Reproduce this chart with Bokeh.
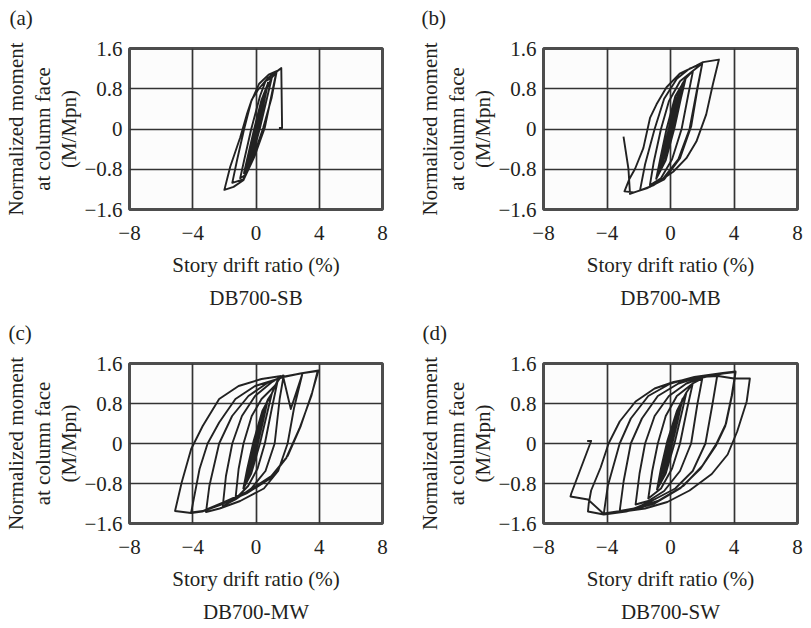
import math
from bokeh.plotting import figure
from bokeh.models import Range1d, FixedTicker, Title
from bokeh.layouts import gridplot
from bokeh.embed import file_html
from bokeh.resources import INLINE

FONT = "Liberation Serif"
INK = "#231f20"

X_TICKS = [-8, -4, 0, 4, 8]
Y_TICKS = [-1.6, -0.8, 0, 0.8, 1.6]
X_LABELS = {-8: "\u22128", -4: "\u22124", 0: "0", 4: "4", 8: "8"}
Y_LABELS = {-1.6: "\u22121.6", -0.8: "\u22120.8", 0: "0", 0.8: "0.8", 1.6: "1.6"}
X_TITLE = "Story drift ratio (%)"
Y_TITLE = "Normalized moment\nat column face\n(M/Mpn)"
TAGS = ["(a)", "(b)", "(c)", "(d)"]
NAMES = ["DB700-SB", "DB700-MB", "DB700-MW", "DB700-SW"]

# (drift %, M/Mpn)
SB_pts = [
    (0, 0),
    (0.4, 0.5), (0.1, 0.08), (-0.2, -0.26), (-0.4, -0.48), (-0.1, -0.08), (0.2, 0.28), (0.4, 0.5),
    (0.38, 0.47), (0.08, 0.06), (-0.22, -0.3), (-0.4, -0.5), (-0.08, -0.06), (0.22, 0.31),
    (0.5, 0.65), (0.15, 0.1), (-0.25, -0.38), (-0.5, -0.62), (-0.15, -0.1), (0.25, 0.38), (0.5, 0.65),
    (0.52, 0.66), (0.13, 0.07), (-0.27, -0.4), (-0.52, -0.64), (-0.13, -0.07), (0.27, 0.41),
    (0.75, 0.9), (0.45, 0.45), (0.1, -0.02), (-0.35, -0.55), (-0.75, -0.86), (-0.45, -0.45), (-0.1, 0.02), (0.35, 0.58), (0.75, 0.9),
    (0.76, 0.92), (0.42, 0.42), (0.08, -0.04), (-0.38, -0.58), (-0.76, -0.88), (-0.42, -0.42), (-0.08, 0.04), (0.38, 0.6),
    (1.0, 1.02), (0.7, 0.62), (0.25, 0.02), (-0.3, -0.62), (-0.7, -0.92), (-1.0, -0.98), (-0.75, -0.62), (-0.3, 0.0), (0.25, 0.65), (0.6, 0.95), (1.0, 1.02),
    (1.3, 1.13), (0.98, 0.61), (0.46, 0.03), (-0.17, -0.56), (-0.8, -1.0), (-1.5, -1.07), (-1.2, -0.62), (-0.75, 0.0), (-0.3, 0.55), (0.2, 0.9), (0.8, 1.08), (1.3, 1.15),
    (1.0, 0.7), (0.55, 0.02), (-0.1, -0.55), (-0.8, -1.02), (-1.42, -1.15), (-2.0, -1.21),
    (-1.63, -0.75), (-1.0, -0.17), (-0.58, 0.29), (-0.27, 0.58), (0.13, 0.78), (0.77, 1.02), (1.6, 1.21),
    (1.65, 0.02), (1.45, 0.02),
]

MB_pts = [
    (0, 0),
    (0.4, 0.5), (0.1, 0.08), (-0.2, -0.28), (-0.4, -0.5), (-0.1, -0.08), (0.2, 0.3), (0.4, 0.5),
    (0.38, 0.48), (0.08, 0.06), (-0.22, -0.3), (-0.4, -0.52), (-0.08, -0.06), (0.22, 0.32),
    (0.5, 0.65), (0.15, 0.1), (-0.25, -0.38), (-0.5, -0.63), (-0.15, -0.1), (0.25, 0.38), (0.5, 0.65),
    (0.52, 0.67), (0.12, 0.06), (-0.28, -0.42), (-0.52, -0.65), (-0.12, -0.06), (0.28, 0.42),
    (0.75, 0.9), (0.45, 0.45), (0.1, -0.02), (-0.35, -0.55), (-0.75, -0.88), (-0.45, -0.45), (-0.1, 0.02), (0.35, 0.58), (0.75, 0.9),
    (0.95, 1.0), (0.65, 0.6), (0.25, 0.02), (-0.3, -0.62), (-0.9, -0.99), (-0.65, -0.6), (-0.25, 0.0), (0.3, 0.65), (0.95, 1.0),
    (1.42, 1.16), (1.1, 0.65), (0.7, 0.0), (0.1, -0.6), (-0.6, -0.98), (-1.3, -1.12), (-1.05, -0.65), (-0.6, 0.0), (-0.1, 0.55), (0.6, 0.95), (1.42, 1.16),
    (2.0, 1.3), (1.65, 0.75), (1.2, 0.0), (0.5, -0.6), (-0.5, -1.0), (-1.3, -1.15), (-1.92, -1.22), (-1.6, -0.7), (-1.0, 0.0), (-0.4, 0.6), (0.4, 1.0), (1.2, 1.2), (2.0, 1.3),
    (1.7, 0.8), (1.3, 0.05), (0.6, -0.58), (-0.4, -1.0), (-1.5, -1.18), (-2.3, -1.26), (-2.9, -1.24),
    (-2.6, -1.0), (-2.23, -0.79), (-1.71, -0.38), (-1.29, 0.22), (-0.88, 0.49), (-0.25, 0.83), (0.58, 1.1), (1.63, 1.26), (2.05, 1.33),
    (3.05, 1.38), (2.67, 0.89), (2.25, 0.29), (1.63, -0.25), (1.0, -0.58), (0.17, -0.85), (-1.09, -1.12), (-1.92, -1.22), (-2.55, -1.29),
    (-2.65, -0.79), (-2.96, -0.15),
]

MW_pts = [
    (0, 0),
    (0.4, 0.48), (0.1, 0.08), (-0.2, -0.27), (-0.4, -0.47), (-0.1, -0.08), (0.2, 0.28), (0.4, 0.48),
    (0.5, 0.62), (0.15, 0.1), (-0.25, -0.37), (-0.5, -0.6), (-0.15, -0.1), (0.25, 0.38), (0.5, 0.62),
    (0.52, 0.64), (0.12, 0.06), (-0.28, -0.4), (-0.52, -0.62), (-0.12, -0.06), (0.28, 0.4),
    (0.75, 0.88), (0.45, 0.45), (0.1, -0.02), (-0.35, -0.55), (-0.75, -0.86), (-0.45, -0.45), (-0.1, 0.02), (0.35, 0.58), (0.75, 0.88),
    (1.0, 1.0), (0.7, 0.6), (0.25, 0.0), (-0.3, -0.6), (-0.8, -0.9), (-0.55, -0.5), (-0.15, 0.05), (0.4, 0.65), (1.0, 1.0),
    (1.38, 1.27), (1.0, 0.7), (0.56, 0.0), (0.1, -0.5), (-0.5, -0.85), (-1.3, -1.11), (-1.1, -0.51), (-0.79, 0.0), (-0.27, 0.55), (0.35, 0.89), (1.18, 1.15), (1.5, 1.3),
    (1.75, 1.36), (1.5, 0.9), (1.18, 0.0), (0.6, -0.55), (-0.3, -0.9), (-1.3, -1.12), (-2.1, -1.25), (-1.9, -0.65), (-1.5, 0.0), (-0.89, 0.55), (-0.06, 0.95), (0.97, 1.22), (1.7, 1.36),
    (2.2, 0.69), (2.93, 1.39), (2.4, 0.7), (2.0, 0.0), (1.4, -0.55), (0.5, -0.9), (-1.0, -1.15), (-2.3, -1.3), (-3.16, -1.37),
    (-2.95, -0.85), (-2.33, 0.0), (-1.51, 0.55), (-0.48, 0.95), (0.76, 1.22), (1.59, 1.32),
    (2.8, 1.4), (3.95, 1.46), (3.55, 1.02), (2.83, 0.35), (2.0, -0.25), (0.97, -0.65), (-0.47, -0.95), (-2.1, -1.18), (-3.37, -1.35), (-4.1, -1.38),
    (-3.57, -0.51), (-3.06, 0.0), (-2.33, 0.42), (-1.3, 0.89), (-0.06, 1.15), (1.38, 1.29), (1.8, 1.34),
    (3.0, 1.41), (3.9, 1.45), (3.5, 0.95), (2.75, 0.3), (1.9, -0.3), (0.9, -0.7), (-0.6, -1.0), (-2.2, -1.22), (-3.4, -1.36), (-4.1, -1.39),
    (-5.12, -1.35), (-4.7, -0.78), (-4.1, -0.11), (-3.37, 0.35), (-2.33, 0.89), (-1.1, 1.15), (0.35, 1.29), (1.6, 1.35),
]

SW_pts = [
    (0, 0),
    (0.4, 0.48), (0.1, 0.08), (-0.2, -0.27), (-0.4, -0.47), (-0.1, -0.08), (0.2, 0.28), (0.4, 0.48),
    (0.5, 0.62), (0.15, 0.1), (-0.25, -0.37), (-0.5, -0.6), (-0.15, -0.1), (0.25, 0.38), (0.5, 0.62),
    (0.75, 0.88), (0.45, 0.45), (0.1, -0.02), (-0.35, -0.55), (-0.75, -0.86), (-0.45, -0.45), (-0.1, 0.02), (0.35, 0.58), (0.75, 0.88),
    (0.77, 0.9), (0.42, 0.42), (0.08, -0.04), (-0.38, -0.58), (-0.77, -0.88), (-0.42, -0.42), (-0.08, 0.04), (0.38, 0.6),
    (1.0, 1.02), (0.7, 0.6), (0.25, 0.0), (-0.3, -0.6), (-0.85, -0.92), (-0.6, -0.5), (-0.2, 0.05), (0.4, 0.65), (1.0, 1.02),
    (1.4, 1.2), (1.05, 0.7), (0.6, 0.0), (0.1, -0.5), (-0.6, -0.9), (-1.4, -1.1), (-1.15, -0.55), (-0.8, 0.0), (-0.3, 0.55), (0.4, 0.95), (1.4, 1.2),
    (2.0, 1.3), (1.7, 0.8), (1.3, 0.0), (0.6, -0.55), (-0.4, -0.95), (-1.4, -1.15), (-2.2, -1.22), (-1.95, -0.6), (-1.6, 0.0), (-1.0, 0.55), (-0.1, 0.95), (1.0, 1.2), (2.0, 1.32),
    (2.95, 1.37), (2.65, 0.8), (2.2, 0.0), (1.4, -0.55), (0.3, -0.9), (-1.2, -1.15), (-2.3, -1.3), (-3.2, -1.35),
    (-2.95, -0.75), (-2.5, 0.0), (-1.8, 0.5), (-0.8, 0.95), (0.5, 1.2), (1.8, 1.33), (2.95, 1.38),
    (3.3, 1.4), (4.1, 1.43), (3.9, 1.0), (3.5, 0.4), (2.9, 0.0), (2.0, -0.45), (0.8, -0.85), (-0.8, -1.15), (-2.5, -1.32), (-4.2, -1.4),
    (-3.95, -0.85), (-3.2, 0.0), (-2.5, 0.5), (-1.4, 0.95), (0.0, 1.2), (1.5, 1.33), (3.3, 1.41), (4.1, 1.44),
    (3.85, 0.95), (3.45, 0.35), (2.85, -0.05), (1.9, -0.5), (0.6, -0.9), (-1.0, -1.2), (-2.8, -1.36), (-4.2, -1.42),
    (-5.2, -1.36), (-5.15, -1.2), (-5.0, -0.94), (-4.4, -0.48), (-3.9, 0.0), (-3.2, 0.44), (-2.2, 0.84), (-1.0, 1.1), (0.2, 1.23), (1.8, 1.33), (3.0, 1.35), (4.0, 1.3), (5.0, 1.3),
    (4.8, 0.84), (4.2, 0.24), (3.6, -0.22), (2.6, -0.61), (1.2, -0.94), (-0.2, -1.17), (-1.6, -1.3), (-3.2, -1.37), (-4.2, -1.41),
    (-5.2, -1.12), (-6.3, -1.06), (-6.25, -1.0), (-5.0, 0.05), (-5.25, 0.05),
]

SERIES = [SB_pts, MB_pts, MW_pts, SW_pts]

W = 405
H = 314
LAYOUT = [
    dict(left=128, top=46, right=23, bottom=104, tag_off=-120),
    dict(left=138, top=48, right=13, bottom=104, tag_off=-122),
    dict(left=128, top=49, right=23, bottom=104, tag_off=-121),
    dict(left=138, top=49, right=13, bottom=104, tag_off=-121),
]


def make_panel(pts, tag, name, lay):
    p = figure(width=W, height=H, x_range=Range1d(-8, 8), y_range=Range1d(-1.6, 1.6),
               output_backend="svg", toolbar_location=None,
               min_border_left=lay["left"], min_border_right=lay["right"],
               min_border_top=lay["top"], min_border_bottom=lay["bottom"])
    p.background_fill_color = "#fcfcfc"
    p.border_fill_color = "white"
    p.outline_line_color = "#4d4d4d"
    p.outline_line_width = 3

    for ax in (p.xaxis[0], p.yaxis[0]):
        ax.axis_line_color = None
        ax.major_tick_line_color = None
        ax.minor_tick_line_color = None
        ax.major_tick_out = 0
        ax.major_tick_in = 0
        ax.major_label_text_font = FONT
        ax.major_label_text_font_size = "21px"
        ax.major_label_text_color = INK
        ax.axis_label_text_font = FONT
        ax.axis_label_text_font_size = "21px"
        ax.axis_label_text_font_style = "normal"
        ax.axis_label_text_color = INK
    p.xaxis.ticker = FixedTicker(ticks=X_TICKS)
    p.yaxis.ticker = FixedTicker(ticks=Y_TICKS)
    p.xaxis.major_label_overrides = X_LABELS
    p.yaxis.major_label_overrides = Y_LABELS
    p.xaxis.major_label_standoff = 16
    p.yaxis.major_label_standoff = 7
    p.xaxis.axis_label = X_TITLE
    p.xaxis.axis_label_standoff = 10
    p.yaxis.axis_label = Y_TITLE
    p.yaxis.axis_label_standoff = 0
    p.yaxis.axis_label_text_line_height = 1.12

    p.xgrid.ticker = FixedTicker(ticks=X_TICKS[1:-1])
    p.ygrid.ticker = FixedTicker(ticks=Y_TICKS[1:-1])
    for g in (p.xgrid[0], p.ygrid[0]):
        g.grid_line_color = "#333333"
        g.grid_line_width = 1.7
        g.grid_line_alpha = 1.0

    xs = [q[0] for q in pts]
    ys = [q[1] for q in pts]
    p.line(xs, ys, line_color="#222222", line_width=1.9, line_join="round")

    # blank spacer nearest the frame, then the panel tag above it
    p.add_layout(Title(text=" ", standoff=0, text_font=FONT, text_font_size="14px"), "above")
    p.add_layout(Title(text=tag, align="left", offset=lay["tag_off"], standoff=0,
                       vertical_align="top",
                       text_font=FONT, text_font_size="21px", text_font_style="normal",
                       text_color=INK), "above")
    p.add_layout(Title(text=name, align="center", standoff=9,
                       text_font=FONT, text_font_size="21px", text_font_style="normal",
                       text_color=INK), "below")
    return p


panels = [make_panel(s, t, n, l) for s, t, n, l in zip(SERIES, TAGS, NAMES, LAYOUT)]
grid = gridplot([[panels[0], panels[1]], [panels[2], panels[3]]], toolbar_location=None)

open("out.html", "w").write(file_html(grid, INLINE))
